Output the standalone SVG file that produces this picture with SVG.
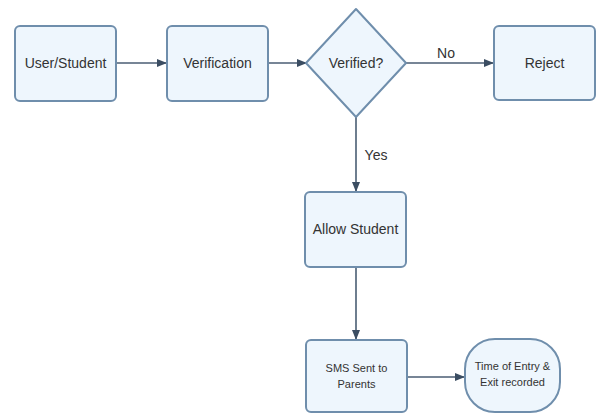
<svg xmlns="http://www.w3.org/2000/svg" width="597" height="414" viewBox="0 0 597 414">
<defs>
<marker id="ah" markerWidth="10" markerHeight="10" refX="9" refY="5" orient="auto" markerUnits="userSpaceOnUse">
<path d="M0,1 L10,5 L0,9 Z" fill="#3b4d62"/>
</marker>
<style>
.box{fill:#eef6fd;stroke:#6f8eac;stroke-width:2}
.lbl{font-family:"Liberation Sans Narrow","Liberation Sans",Arial,sans-serif;font-size:14px;fill:#333;text-anchor:middle}
.sm{font-size:11px}
.conn{stroke:#4a5d73;stroke-width:1.6;fill:none;marker-end:url(#ah)}
</style>
</defs>
<rect width="597" height="414" fill="#fff"/>
<g id="connectors">
<line class="conn" x1="116" y1="63" x2="166" y2="63"/>
<line class="conn" x1="268" y1="63" x2="306" y2="63"/>
<line class="conn" x1="406" y1="63" x2="493" y2="63"/>
<line class="conn" x1="356" y1="117" x2="356" y2="191"/>
<line class="conn" x1="356" y1="267" x2="356" y2="339"/>
<line class="conn" x1="407" y1="377" x2="464" y2="377"/>
<text class="lbl" x="446" y="58">No</text>
<text class="lbl" x="376" y="160">Yes</text>
</g>
<g id="user">
<rect class="box" x="15" y="26" width="101" height="75" rx="5"/>
<text class="lbl" x="65.5" y="68">User/Student</text>
</g>
<g id="verification">
<rect class="box" x="167" y="26" width="101" height="75" rx="5"/>
<text class="lbl" x="217.5" y="68">Verification</text>
</g>
<g id="verified">
<path class="box" d="M356,9 L406,63 L356,117 L306,63 Z" stroke-linejoin="round"/>
<text class="lbl" x="356" y="68">Verified?</text>
</g>
<g id="reject">
<rect class="box" x="494" y="26" width="101" height="74" rx="5"/>
<text class="lbl" x="544.5" y="68">Reject</text>
</g>
<g id="allow">
<rect class="box" x="305" y="192" width="101" height="75" rx="5"/>
<text class="lbl" x="355.5" y="234">Allow Student</text>
</g>
<g id="sms">
<rect class="box" x="306" y="340" width="101" height="72" rx="5"/>
<text class="lbl sm" x="356.5" y="372">SMS Sent to</text>
<text class="lbl sm" x="356.5" y="388">Parents</text>
</g>
<g id="time">
<rect class="box" x="465" y="339" width="95" height="73" rx="30"/>
<text class="lbl sm" x="512.5" y="370">Time of Entry &amp;</text>
<text class="lbl sm" x="512.5" y="386">Exit recorded</text>
</g>
</svg>
